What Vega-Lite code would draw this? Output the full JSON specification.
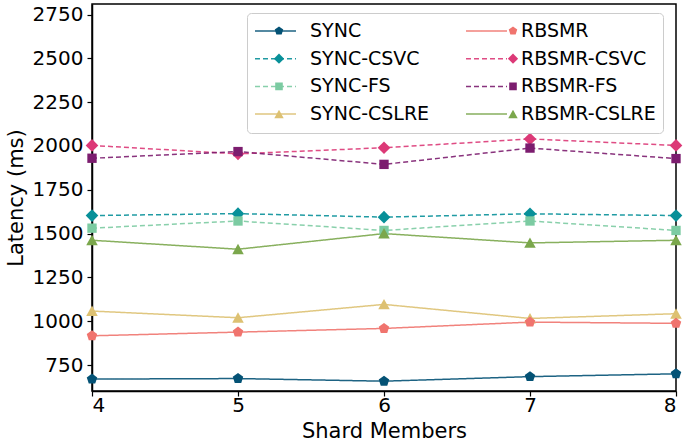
{
  "$schema": "https://vega.github.io/schema/vega-lite/v6.json",
  "width": 584,
  "height": 387,
  "autosize": {"type": "none"},
  "padding": {"left": 92, "top": 4, "right": 9, "bottom": 53},
  "background": "white",
  "config": {
    "font": "DejaVu Sans",
    "view": {"stroke": "black", "strokeWidth": 1.5},
    "axis": {"grid": false, "domainColor": "black", "domainWidth": 1.5, "tickColor": "black", "tickWidth": 1.2, "tickSize": 5, "labelColor": "black", "titleColor": "black", "labelFont": "DejaVu Sans", "titleFont": "DejaVu Sans", "labelFontSize": 20, "titleFontSize": 21, "titleFontWeight": "normal"}
  },
  "data": {"values": [
    {"x": 4, "series": "SYNC", "y": 670}, {"x": 5, "series": "SYNC", "y": 673}, {"x": 6, "series": "SYNC", "y": 658}, {"x": 7, "series": "SYNC", "y": 684}, {"x": 8, "series": "SYNC", "y": 700},
    {"x": 4, "series": "SYNC-CSVC", "y": 1603}, {"x": 5, "series": "SYNC-CSVC", "y": 1614}, {"x": 6, "series": "SYNC-CSVC", "y": 1594}, {"x": 7, "series": "SYNC-CSVC", "y": 1613}, {"x": 8, "series": "SYNC-CSVC", "y": 1603},
    {"x": 4, "series": "SYNC-FS", "y": 1531}, {"x": 5, "series": "SYNC-FS", "y": 1572}, {"x": 6, "series": "SYNC-FS", "y": 1518}, {"x": 7, "series": "SYNC-FS", "y": 1572}, {"x": 8, "series": "SYNC-FS", "y": 1518},
    {"x": 4, "series": "SYNC-CSLRE", "y": 1058}, {"x": 5, "series": "SYNC-CSLRE", "y": 1020}, {"x": 6, "series": "SYNC-CSLRE", "y": 1096}, {"x": 7, "series": "SYNC-CSLRE", "y": 1016}, {"x": 8, "series": "SYNC-CSLRE", "y": 1043},
    {"x": 4, "series": "RBSMR", "y": 917}, {"x": 5, "series": "RBSMR", "y": 938}, {"x": 6, "series": "RBSMR", "y": 959}, {"x": 7, "series": "RBSMR", "y": 995}, {"x": 8, "series": "RBSMR", "y": 988},
    {"x": 4, "series": "RBSMR-CSVC", "y": 2003}, {"x": 5, "series": "RBSMR-CSVC", "y": 1955}, {"x": 6, "series": "RBSMR-CSVC", "y": 1990}, {"x": 7, "series": "RBSMR-CSVC", "y": 2040}, {"x": 8, "series": "RBSMR-CSVC", "y": 2003},
    {"x": 4, "series": "RBSMR-FS", "y": 1930}, {"x": 5, "series": "RBSMR-FS", "y": 1968}, {"x": 6, "series": "RBSMR-FS", "y": 1895}, {"x": 7, "series": "RBSMR-FS", "y": 1988}, {"x": 8, "series": "RBSMR-FS", "y": 1928},
    {"x": 4, "series": "RBSMR-CSLRE", "y": 1462}, {"x": 5, "series": "RBSMR-CSLRE", "y": 1411}, {"x": 6, "series": "RBSMR-CSLRE", "y": 1500}, {"x": 7, "series": "RBSMR-CSLRE", "y": 1447}, {"x": 8, "series": "RBSMR-CSLRE", "y": 1462}
  ]},
  "encoding": {
    "x": {"field": "x", "type": "quantitative", "title": "Shard Members", "scale": {"domain": [4, 8], "nice": false, "zero": false}, "axis": {"values": [4, 5, 6, 7, 8], "format": "d", "labelPadding": -1, "titlePadding": 5}},
    "y": {"field": "y", "type": "quantitative", "title": "Latency (ms)", "scale": {"domain": [602, 2810], "nice": false, "zero": false}, "axis": {"values": [750, 1000, 1250, 1500, 1750, 2000, 2250, 2500, 2750], "format": "d", "labelPadding": 4, "titlePadding": 6}}
  },
  "layer": [
    {
      "mark": {"type": "line", "strokeWidth": 1.5, "opacity": 0.9},
      "encoding": {
        "color": {"field": "series", "type": "nominal",
          "scale": {"domain": ["SYNC", "SYNC-CSVC", "SYNC-FS", "SYNC-CSLRE", "RBSMR", "RBSMR-CSVC", "RBSMR-FS", "RBSMR-CSLRE"],
                    "range": ["#045275", "#089099", "#7ccba2", "#ddc172", "#f0746e", "#dc3977", "#7c1d6f", "#7ba74c"]},
          "legend": {"orient": "none", "legendX": 155, "legendY": 9, "columns": 2, "title": null, "symbolType": "stroke", "symbolSize": 1681, "symbolStrokeWidth": 1.5, "clipHeight": 22, "rowPadding": 5.7, "columnPadding": 35, "labelOffset": 13, "labelFontSize": 19, "labelFont": "DejaVu Sans", "labelColor": "black", "labelLimit": 300, "padding": 7, "strokeColor": "#cccccc", "cornerRadius": 4}},
        "strokeDash": {"field": "series", "type": "nominal",
          "scale": {"domain": ["SYNC", "SYNC-CSVC", "SYNC-FS", "SYNC-CSLRE", "RBSMR", "RBSMR-CSVC", "RBSMR-FS", "RBSMR-CSLRE"],
                    "range": [[1, 0], [5, 3], [5, 3], [1, 0], [1, 0], [5, 3], [5, 3], [1, 0]]},
          "legend": {"orient": "none", "legendX": 155, "legendY": 9, "columns": 2, "title": null, "symbolType": "stroke", "symbolSize": 1681, "symbolStrokeWidth": 1.5, "clipHeight": 22, "rowPadding": 5.7, "columnPadding": 35, "labelOffset": 13, "labelFontSize": 19, "labelFont": "DejaVu Sans", "labelColor": "black", "labelLimit": 300, "padding": 7, "strokeColor": "#cccccc", "cornerRadius": 4}}
      }
    },
    {
      "mark": {"type": "point", "filled": true, "size": 121, "opacity": 1},
      "encoding": {
        "color": {"field": "series", "type": "nominal",
          "scale": {"domain": ["SYNC", "SYNC-CSVC", "SYNC-FS", "SYNC-CSLRE", "RBSMR", "RBSMR-CSVC", "RBSMR-FS", "RBSMR-CSLRE"],
                    "range": ["#045275", "#089099", "#7ccba2", "#ddc172", "#f0746e", "#dc3977", "#7c1d6f", "#7ba74c"]},
          "legend": {"orient": "none", "legendX": 155, "legendY": 9, "columns": 2, "title": null, "symbolSize": 80, "clipHeight": 22, "rowPadding": 5.7, "columnPadding": 199, "labelOffset": 0, "symbolOffset": 15.5, "labelExpr": "''", "labelFontSize": 19, "labelFont": "DejaVu Sans", "padding": 7}},
        "shape": {"field": "series", "type": "nominal",
          "scale": {"domain": ["SYNC", "SYNC-CSVC", "SYNC-FS", "SYNC-CSLRE", "RBSMR", "RBSMR-CSVC", "RBSMR-FS", "RBSMR-CSLRE"],
                    "range": ["M0,-1L0.951,-0.309L0.588,0.809L-0.588,0.809L-0.951,-0.309Z", "M-1.15,0L0,-1.15L1.15,0L0,1.15Z", "M-0.85,-0.85L0.85,-0.85L0.85,0.85L-0.85,0.85Z", "M0,-1L1.05,0.9L-1.05,0.9Z", "M0,-1L0.951,-0.309L0.588,0.809L-0.588,0.809L-0.951,-0.309Z", "M-1.15,0L0,-1.15L1.15,0L0,1.15Z", "M-0.85,-0.85L0.85,-0.85L0.85,0.85L-0.85,0.85Z", "M0,-1L1.05,0.9L-1.05,0.9Z"]},
          "legend": {"orient": "none", "legendX": 155, "legendY": 9, "columns": 2, "title": null, "symbolSize": 80, "clipHeight": 22, "rowPadding": 5.7, "columnPadding": 199, "labelOffset": 0, "symbolOffset": 15.5, "labelExpr": "''", "labelFontSize": 19, "labelFont": "DejaVu Sans", "padding": 7}}
      }
    }
  ],
  "resolve": {"legend": {"color": "independent", "shape": "independent", "strokeDash": "independent"}}
}
